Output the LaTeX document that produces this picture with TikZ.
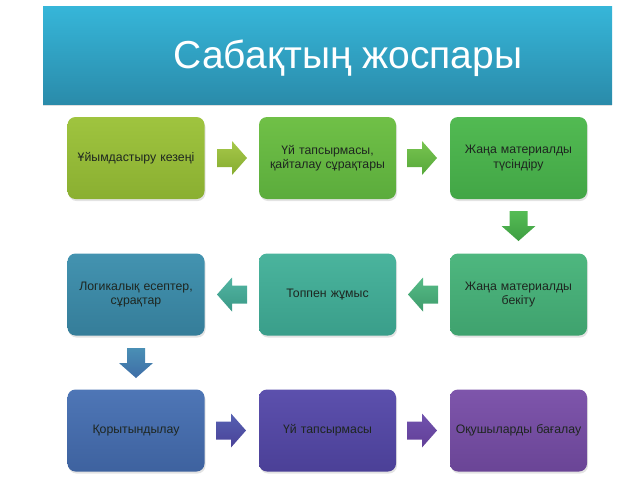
\documentclass[tikz,border=0pt]{standalone}
\usepackage{fontspec}
\setmainfont{Liberation Sans}
\usepackage{tikz}
\usetikzlibrary{shadows}

\definecolor{bannertop}{HTML}{36B6D9}
\definecolor{bannerbot}{HTML}{2A8BAA}
\definecolor{boxtext}{HTML}{1E2620}

\tikzset{
    stage/.style={rounded corners=8pt, minimum width=137pt, minimum height=82pt,
        text width=128pt, align=center, inner sep=2pt, text=boxtext,
        font=\fontsize{12.3}{14.5}\selectfont,
        drop shadow={opacity=0.22, shadow xshift=1pt, shadow yshift=-2pt}},
    tint/.style 2 args={/utils/exec={\definecolor{tintA}{HTML}{#1}\definecolor{tintB}{HTML}{#2}},
        top color=tintA, bottom color=tintB},
    blockarr/.pic={
        \path[pic actions] (-15,-9) -- (0,-9) -- (0,-17) -- (15,0) -- (0,17) -- (0,9) -- (-15,9) -- cycle;
    }
}

\begin{document}
\begin{tikzpicture}[x=1pt,y=-1pt]
    \useasboundingbox (0,0) rectangle (640,480);

    % title banner
    \shade[top color=bannertop, bottom color=bannerbot,
        drop shadow={opacity=0.25, shadow xshift=0pt, shadow yshift=-2pt}]
        (43,6) rectangle (612,104);
    \node[text=white, font=\fontsize{39}{45}\selectfont] (title) at (348,58) {Сабақтың жоспары};

    % row 1
    \node[stage, tint={9FC43F}{8AAF31}] (org) at (136,158) {Ұйымдастыру кезеңі};
    \node[stage, tint={70C047}{5BAC3C}] (hw1) at (327.5,158) {Үй тапсырмасы,\\қайталау сұрақтары};
    \node[stage, tint={52BA52}{42A646}] (expl) at (518.5,158) {Жаңа материалды\\түсіндіру};

    % row 2
    \node[stage, tint={4EB77F}{3FA26E}] (fix) at (518.5,294.5) {Жаңа материалды\\бекіту};
    \node[stage, tint={4AB49D}{3A9E8A}] (group) at (327.5,294.5) {Топпен жұмыс};
    \node[stage, tint={4393B0}{357D99}] (logic) at (136,294.5) {Логикалық есептер,\\сұрақтар};

    % row 3
    \node[stage, tint={4E76B6}{3E629F}] (sum) at (136,430.5) {Қорытындылау};
    \node[stage, tint={5C50AD}{4B4097}] (hw2) at (327.5,430.5) {Үй тапсырмасы};
    \node[stage, tint={7E55AB}{6A4596}] (mark) at (518.5,430.5) {Оқушыларды бағалау};

    % arrows between stages
    \pic[tint={A6C84A}{86AC30}] at (232,158) {blockarr};
    \pic[tint={78C450}{56A83A}] at (422,158) {blockarr};
    \pic[tint={55BC55}{3E9E42}, rotate=-90] at (518.5,226) {blockarr};
    \pic[tint={56BB86}{3E9C6C}, rotate=180] at (423,294.5) {blockarr};
    \pic[tint={52B5A2}{3A9886}, rotate=180] at (232,294.5) {blockarr};
    \pic[tint={4A8FB5}{3E6DA6}, rotate=-90] at (136,363) {blockarr};
    \pic[tint={5661B2}{4A4298}] at (231,430.5) {blockarr};
    \pic[tint={7052AD}{623F98}] at (422,430.5) {blockarr};
\end{tikzpicture}
\end{document}
